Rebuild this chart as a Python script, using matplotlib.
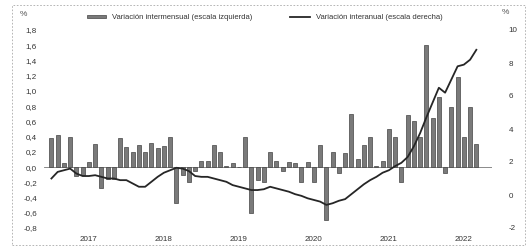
import numpy as np
import matplotlib
matplotlib.use("Agg")
import matplotlib.pyplot as plt
from matplotlib.patches import Rectangle

plt.rcParams["font.family"] = ["Liberation Sans", "DejaVu Sans"]

# Variación intermensual (escala izquierda), ene-2017 .. sep-2022
mensual = [
    0.38, 0.42, 0.05, 0.40, -0.12, -0.10, 0.07, 0.30, -0.27, -0.15, -0.15, 0.38,
    0.26, 0.20, 0.29, 0.20, 0.31, 0.25, 0.28, 0.40, -0.47, -0.10, -0.20, -0.05,
    0.08, 0.08, 0.29, 0.20, 0.01, 0.05, 0.00, 0.40, -0.60, -0.17, -0.20, 0.20,
    0.08, -0.05, 0.07, 0.05, -0.20, 0.07, -0.20, 0.29, -0.70, 0.20, -0.08, 0.18,
    0.70, 0.10, 0.29, 0.40, 0.02, 0.08, 0.50, 0.40, -0.20, 0.68, 0.60, 0.40,
    1.60, 0.65, 0.92, -0.08, 0.79, 1.18, 0.40, 0.79, 0.30,
]

# Variación interanual (escala derecha)
anual = [
    1.0, 1.4, 1.5, 1.6, 1.3, 1.15, 1.15, 1.2, 1.1, 1.0, 1.0, 0.9,
    0.9, 0.7, 0.5, 0.5, 0.8, 1.1, 1.35, 1.5, 1.65, 1.6, 1.45, 1.15,
    1.1, 1.1, 1.0, 0.9, 0.8, 0.6, 0.5, 0.4, 0.3, 0.3, 0.35, 0.5,
    0.4, 0.3, 0.2, 0.05, -0.05, -0.2, -0.3, -0.4, -0.6, -0.5, -0.35, -0.25,
    0.05, 0.35, 0.65, 0.9, 1.1, 1.35, 1.5, 1.75, 1.95, 2.3, 2.95, 3.75,
    4.7, 5.6, 6.5, 6.2, 7.0, 7.8, 7.9, 8.2, 8.8,
]

anios = ["2017", "2018", "2019", "2020", "2021", "2022"]
izq_ticks = [-0.8, -0.6, -0.4, -0.2, 0.0, 0.2, 0.4, 0.6, 0.8, 1.0, 1.2, 1.4, 1.6, 1.8]
der_ticks = [-2, 0, 2, 4, 6, 8, 10]

x = np.arange(len(mensual))

fig = plt.figure(figsize=(5.29, 2.5), dpi=100)
ax = fig.add_axes([0.083, 0.088, 0.847, 0.792])
ax2 = ax.twinx()

ax.bar(x, mensual, width=0.62, color="#7a7a7a", edgecolor="#444444",
       linewidth=0.5, label="Variación intermensual (escala izquierda)")
ax.axhline(0, color="#777777", lw=0.6, zorder=0)
ax2.plot(np.arange(len(anual)), anual, color="#262626", lw=1.3,
         label="Variación interanual (escala derecha)")

ax.set_xlim(-1.2, 70.5)
ax.set_ylim(-0.8, 1.8)
ax2.set_ylim(-2, 10)

ax.set_yticks(izq_ticks)
ax.set_yticklabels([f"{v:.1f}".replace(".", ",") for v in izq_ticks])
ax2.set_yticks(der_ticks)
ax2.set_yticklabels([str(v) for v in der_ticks])
ax.set_xticks([6 + 12 * i for i in range(len(anios))])
ax.set_xticklabels(anios)

for a in (ax, ax2):
    for s in a.spines.values():
        s.set_visible(False)
    a.tick_params(length=0, labelsize=5.8, colors="#333333")
ax.tick_params(axis="y", pad=5)
ax2.tick_params(axis="y", pad=12)
ax.tick_params(axis="x", pad=6)

h1, l1 = ax.get_legend_handles_labels()
h2, l2 = ax2.get_legend_handles_labels()
fig.legend(h1 + h2, l1 + l2, loc="center", bbox_to_anchor=(0.5, 0.93), ncol=2,
           frameon=False, fontsize=5.5, handlelength=2.5, columnspacing=5,
           handleheight=0.3, labelcolor="#333333")

fig.text(0.045, 0.94, "%", fontsize=6, color="#555555", ha="center", va="center")
fig.text(0.955, 0.95, "%", fontsize=6, color="#555555", ha="center", va="center")

fig.patches.append(Rectangle((0.022, 0.02), 0.97, 0.96, transform=fig.transFigure,
                             fill=False, ls=(0, (2, 2)), lw=0.6, color="#aaaaaa"))

fig.savefig("out.png", dpi=100)
